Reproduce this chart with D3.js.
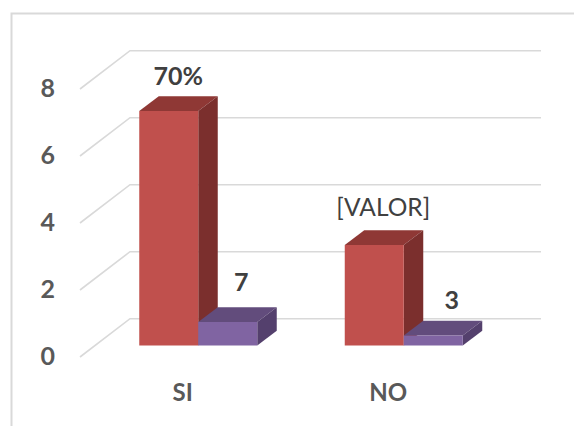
<!DOCTYPE html>
<html><head><meta charset="utf-8">
<script src="https://cdn.jsdelivr.net/npm/d3@7"></script>
<style>html,body{margin:0;padding:0;background:#fff}svg{display:block}text{font-family:Lato,sans-serif}</style>
</head><body><div id="c"></div>
<script>
const categories = ["SI", "NO"];
const redValues = [7, 3];
const purpleValues = [0.7, 0.3];
const redLabels = ["70%", "[VALOR]"];
const purpleLabels = ["7", "3"];
const yTicks = [0, 2, 4, 6, 8];

const W = 574, H = 426;
const svg = d3.select("#c").append("svg").attr("width", W).attr("height", H);
const y = d3.scaleLinear().domain([0, 8]).range([345.5, 77.5]);
const x = d3.scaleBand().domain(categories).range([80, 491]);
const depthX = 19.5, depthY = -14.8, backDY = -26.8, frontDY = 11.5;
const barW = 59, barShift = 15.5;
const GRID = "#d9d9d9";

// frame
svg.append("path").attr("d", `M11.5 426V13.5H574`).attr("fill", "none").attr("stroke", GRID).attr("stroke-width", 2);

// gridlines
const g = svg.append("g").attr("fill", "none").attr("stroke", GRID).attr("stroke-width", 1.6);
yTicks.forEach(t => {
  const yb = y(t) + backDY, yf = y(t) + frontDY;
  g.append("path").attr("d", `M80 ${yf}L130 ${yb}H541`);
});

// axes
const ay = svg.append("g").attr("transform", `translate(55,${frontDY - 0.5})`)
  .call(d3.axisLeft(y).tickValues(yTicks).tickSize(0).tickPadding(0));
const ax = svg.append("g").attr("transform", `translate(0,383.5)`)
  .call(d3.axisBottom(x).tickSize(0).tickPadding(0));
[ay, ax].forEach(a => {
  a.select(".domain").remove();
  a.selectAll("text").attr("font-size", 25).attr("font-weight", 700).attr("fill", "#595959").style("font-family", 'Lato,sans-serif');
});
ax.selectAll("text").attr("font-size", 24).attr("dy", "0.71em");

function box(sel, x0, v, cols) {
  const xl = x0, xr = x0 + barW, yt = y(v), yb = y(0);
  const poly = (pts, c) => sel.append("polygon").attr("points", pts.map(p => p.join(",")).join(" ")).attr("fill", c);
  poly([[xl, yt], [xl + depthX, yt + depthY], [xr + depthX, yt + depthY], [xr, yt]], cols.top);
  poly([[xr, yt], [xr + depthX, yt + depthY], [xr + depthX, yb + depthY], [xr, yb]], cols.side);
  poly([[xl, yt], [xr, yt], [xr, yb], [xl, yb]], cols.front);
}
const redCols = { front: "#c0504d", top: "#8f3835", side: "#7b2f2d" };
const purCols = { front: "#8064a2", top: "#624c7c", side: "#54406d" };
const bars = svg.append("g");
const groupStart = c => x(c) + x.bandwidth() / 2 + barShift - barW;
categories.forEach((c, i) => {
  box(bars, groupStart(c), redValues[i], redCols);
  box(bars, groupStart(c) + barW, purpleValues[i], purCols);
});

// data labels, hand-nudged as in the source chart
const redNudge = [[39, -11], [38.5, -14]];
const purNudge = [[43, -16], [48, -11.6]];
const labelStyle = (s) => s.attr("text-anchor", "middle").attr("fill", "#404040");
categories.forEach((c, i) => {
  const cx = groupStart(c);
  const bold = redLabels[i] !== "[VALOR]";
  svg.append("text").call(labelStyle)
    .attr("x", cx + redNudge[i][0])
    .attr("y", y(redValues[i]) + depthY + redNudge[i][1])
    .attr("font-size", bold ? 25 : 24.5).attr("font-weight", bold ? 700 : 400)
    .text(redLabels[i]);
  svg.append("text").call(labelStyle)
    .attr("x", cx + barW + purNudge[i][0])
    .attr("y", y(purpleValues[i]) + depthY + purNudge[i][1])
    .attr("font-size", 25).attr("font-weight", 700)
    .text(purpleLabels[i]);
});
</script></body></html>
